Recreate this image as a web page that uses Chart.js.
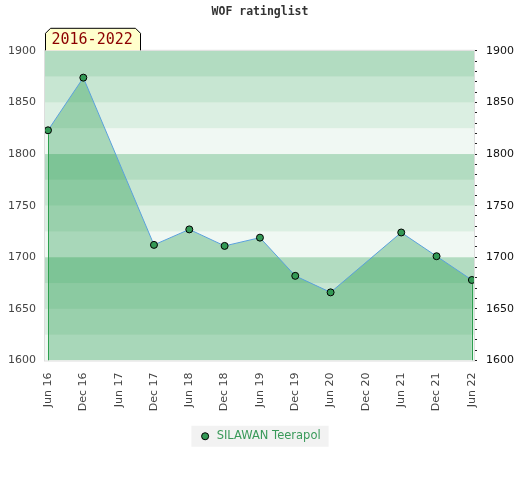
<!DOCTYPE html>
<html>
<head>
<meta charset="utf-8">
<script src="https://cdn.jsdelivr.net/npm/chart.js@4/dist/chart.umd.min.js"></script>
<style>
  html, body { margin: 0; padding: 0; background: #fff; }
  #wrap { width: 520px; height: 480px; }
</style>
</head>
<body>
<div id="wrap"><canvas id="ratingChart"></canvas></div>
<script>
// data
const labels = ['Jun 16', 'Dec 16', 'Jun 17', 'Dec 17', 'Jun 18', 'Dec 18', 'Jun 19',
                'Dec 19', 'Jun 20', 'Dec 20', 'Jun 21', 'Dec 21', 'Jun 22'];
const ratings = [1823, 1874, null, 1712, 1727, 1711, 1719, 1682, 1666, null, 1724, 1701, 1678];
const yMin = 1600;
const yMax = 1900;
const period = '2016-2022';
const player = 'SILAWAN Teerapol';

const points = labels.map((l, i) => ({ x: i, y: ratings[i] }));

// striped background, 25 points per band, 4 shades repeating
const bands = {
    id: 'bands',
    beforeDatasetsDraw(chart) {
        const { ctx, chartArea: a, scales: { y } } = chart;
        const alphas = [0.06, 0.14, 0.22, 0.30];
        ctx.save();
        for (let v = y.min; v < y.max; v += 25) {
            const k = ((v - y.min) / 25) % 4;
            const top = y.getPixelForValue(v + 25);
            const bot = y.getPixelForValue(v);
            ctx.fillStyle = 'rgba(0,140,50,' + alphas[k] + ')';
            ctx.fillRect(a.left, top, a.right - a.left, bot - top);
        }
        ctx.restore();
    },
    afterDatasetsDraw(chart) {
        const { ctx, chartArea: a } = chart;
        const pts = chart.getDatasetMeta(0).data;
        const first = pts[0], last = pts[pts.length - 1];
        ctx.save();
        ctx.strokeStyle = '#2ea04f';
        ctx.lineWidth = 1;
        [first, last].forEach(p => {
            const x = Math.round(p.x) + 0.5;
            ctx.beginPath();
            ctx.moveTo(x, p.y + 4);
            ctx.lineTo(x, a.bottom);
            ctx.stroke();
        });
        ctx.strokeStyle = '#dddddd';
        ctx.strokeRect(a.left - 0.5, a.top - 0.5, a.right - a.left + 1, a.bottom - a.top + 1);
        ctx.restore();
    }
};

// period tag above the plot and grey box behind the legend
const extras = {
    id: 'extras',
    beforeDraw(chart) {
        const box = chart.legend.legendHitBoxes[0];
        if (!box) return;
        const ctx = chart.ctx;
        ctx.save();
        ctx.fillStyle = '#f2f2f2';
        ctx.fillRect(box.left - 8, box.top + box.height / 2 - 10.5, box.width + 16, 21);
        ctx.restore();
    },
    afterDraw(chart) {
        const { ctx, chartArea: a } = chart;
        const l = a.left + 0.5, r = a.left + 95.5, t = a.top - 22.5, b = a.top - 0.5, c = 5;
        ctx.save();
        ctx.beginPath();
        ctx.moveTo(l, b);
        ctx.lineTo(l, t + c);
        ctx.lineTo(l + c, t);
        ctx.lineTo(r - c, t);
        ctx.lineTo(r, t + c);
        ctx.lineTo(r, b);
        ctx.fillStyle = '#ffffcc';
        ctx.fill();
        ctx.strokeStyle = '#000';
        ctx.lineWidth = 1;
        ctx.stroke();
        ctx.fillStyle = '#8b0000';
        ctx.font = '15px "DejaVu Sans Mono"';
        ctx.textBaseline = 'middle';
        ctx.fillText(period, l + 6, t + 12);
        ctx.restore();
    }
};

const tickFont = { family: 'DejaVu Sans', size: 11 };

new Chart(document.getElementById('ratingChart'), {
    type: 'line',
    data: {
        datasets: [{
            label: player,
            data: points,
            spanGaps: true,
            borderColor: '#5aa0dc',
            borderWidth: 1,
            tension: 0,
            fill: 'start',
            backgroundColor: 'rgba(0,140,50,0.3)',
            pointRadius: 3.5,
            pointBackgroundColor: '#339955',
            pointBorderColor: '#000',
            pointBorderWidth: 1
        }]
    },
    options: {
        responsive: true,
        maintainAspectRatio: false,
        animation: false,
        layout: { padding: { top: 5, left: 0, right: 0, bottom: 28 } },
        scales: {
            x: {
                type: 'linear',
                min: -0.085,
                max: 12.06,
                afterBuildTicks: s => { s.ticks = labels.map((l, i) => ({ value: i })); },
                afterFit: s => { s.height = 60; },
                ticks: {
                    callback: v => labels[v],
                    minRotation: 90,
                    maxRotation: 90,
                    autoSkip: false,
                    color: '#444',
                    font: tickFont,
                    padding: 4
                },
                grid: { display: false },
                border: { display: false }
            },
            y: {
                min: yMin,
                max: yMax,
                afterFit: s => { s.width = 45; },
                ticks: { stepSize: 50, callback: v => String(v), color: '#444', font: tickFont, padding: 9 },
                grid: { display: false, drawTicks: false },
                border: { display: false }
            },
            y2: {
                position: 'right',
                min: yMin,
                max: yMax,
                afterFit: s => { s.width = 46; },
                ticks: {
                    stepSize: 10,
                    autoSkip: false,
                    callback: v => (v % 50 === 0 ? String(v) : ''),
                    color: '#111',
                    font: tickFont,
                    padding: 9
                },
                grid: { drawOnChartArea: false, tickLength: 3, color: '#222' },
                border: { display: false }
            }
        },
        plugins: {
            title: {
                display: true,
                text: 'WOF ratinglist',
                color: '#333',
                font: { family: 'DejaVu Sans Mono', size: 11.5, weight: 'bold' },
                padding: { top: 0, bottom: 32 }
            },
            legend: {
                position: 'bottom',
                labels: {
                    usePointStyle: true,
                    pointStyle: 'circle',
                    boxHeight: 5,
                    color: '#3a9a5a',
                    font: { family: 'DejaVu Sans', size: 11.5 },
                    generateLabels: chart => Chart.defaults.plugins.legend.labels.generateLabels(chart).map(item => {
                        item.fillStyle = '#339955';
                        item.strokeStyle = '#000';
                        item.lineWidth = 1;
                        return item;
                    })
                }
            },
            tooltip: { enabled: false }
        }
    },
    plugins: [bands, extras]
});
</script>
</body>
</html>
